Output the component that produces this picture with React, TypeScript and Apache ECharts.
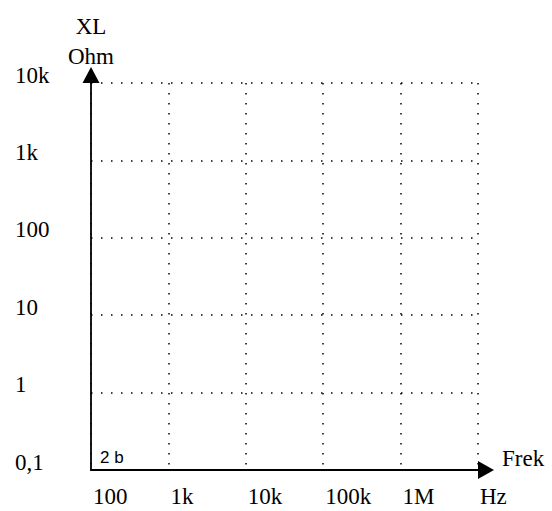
import React, { useEffect, useRef } from "react";
import * as echarts from "echarts";

const xTickValues = [100, 1000, 10000, 100000, 1000000, 10000000];
const xTickLabels = ["100", "1k", "10k", "100k", "1M", "Hz"];
const yTickValues = [0.1, 1, 10, 100, 1000, 10000];
const yTickLabels = ["0,1", "1", "10", "100", "1k", "10k"];
const yAxisName = "XL\nOhm";
const xAxisName = "Frek";
const cornerNote = "2 b";

const FONT = "'Liberation Serif', 'Times New Roman', serif";

function labelFor(values: number[], labels: string[], v: number): string {
  for (let i = 0; i < values.length; i++) {
    if (Math.abs(Math.log10(values[i]) - Math.log10(v)) < 1e-6) return labels[i];
  }
  return "";
}

export default function App() {
  const ref = useRef<HTMLDivElement>(null);
  useEffect(() => {
    document.body.style.margin = "0";
    const chart = echarts.init(ref.current!, null, { renderer: "svg" });
    const dotted = { color: "#000", type: [1.5, 8.5] as any, width: 1.5 };
    chart.setOption({
      animation: false,
      backgroundColor: "#fff",
      grid: { left: 91, top: 83, right: 74, bottom: 41, containLabel: false },
      xAxis: {
        type: "log",
        logBase: 10,
        min: xTickValues[0],
        max: xTickValues[xTickValues.length - 1],
        interval: 1,
        name: xAxisName,
        nameLocation: "end",
        nameGap: 24,
        nameTextStyle: {
          fontFamily: FONT,
          fontSize: 23,
          color: "#000",
          align: "left",
          verticalAlign: "bottom",
          lineHeight: 24,
        },
        axisLine: {
          show: true,
          lineStyle: { color: "#000", width: 1.8 },
          symbol: ["none", "triangle"],
          symbolSize: [18, 16],
          symbolOffset: [0, 8],
        },
        axisTick: { show: false },
        minorTick: { show: false },
        splitLine: { show: true, lineStyle: dotted },
        axisLabel: {
          show: true,
          showMinLabel: true,
          showMaxLabel: true,
          hideOverlap: false,
          fontFamily: FONT,
          fontSize: 23,
          color: "#000",
          align: "left",
          verticalAlign: "top",
          lineHeight: 24,
          margin: 14,
          padding: [0, 0, 0, 2],
          formatter: (v: number) => labelFor(xTickValues, xTickLabels, v),
        },
      },
      yAxis: {
        type: "log",
        logBase: 10,
        min: yTickValues[0],
        max: yTickValues[yTickValues.length - 1],
        interval: 1,
        name: yAxisName,
        nameLocation: "end",
        nameGap: 12,
        nameTextStyle: {
          fontFamily: FONT,
          fontSize: 23,
          color: "#000",
          align: "center",
          verticalAlign: "bottom",
          lineHeight: 30,
        },
        axisLine: {
          show: true,
          lineStyle: { color: "#000", width: 1.8 },
          symbol: ["none", "triangle"],
          symbolSize: [17, 16],
          symbolOffset: [0, 8],
        },
        axisTick: { show: false },
        minorTick: { show: false },
        splitLine: { show: true, lineStyle: dotted },
        axisLabel: {
          show: true,
          showMinLabel: true,
          showMaxLabel: true,
          hideOverlap: false,
          fontFamily: FONT,
          fontSize: 23,
          color: "#000",
          align: "left",
          verticalAlign: "bottom",
          lineHeight: 16,
          margin: 76,
          formatter: (v: number) => labelFor(yTickValues, yTickLabels, v),
        },
      },
      graphic: [
        {
          type: "text",
          left: 100,
          top: 449,
          style: {
            text: cornerNote,
            fontFamily: "'Liberation Sans', Arial, sans-serif",
            fontSize: 17,
            fill: "#000",
          },
        },
      ],
      series: [],
    });
    return () => chart.dispose();
  }, []);
  return <div ref={ref} style={{ width: 552, height: 511 }} />;
}
